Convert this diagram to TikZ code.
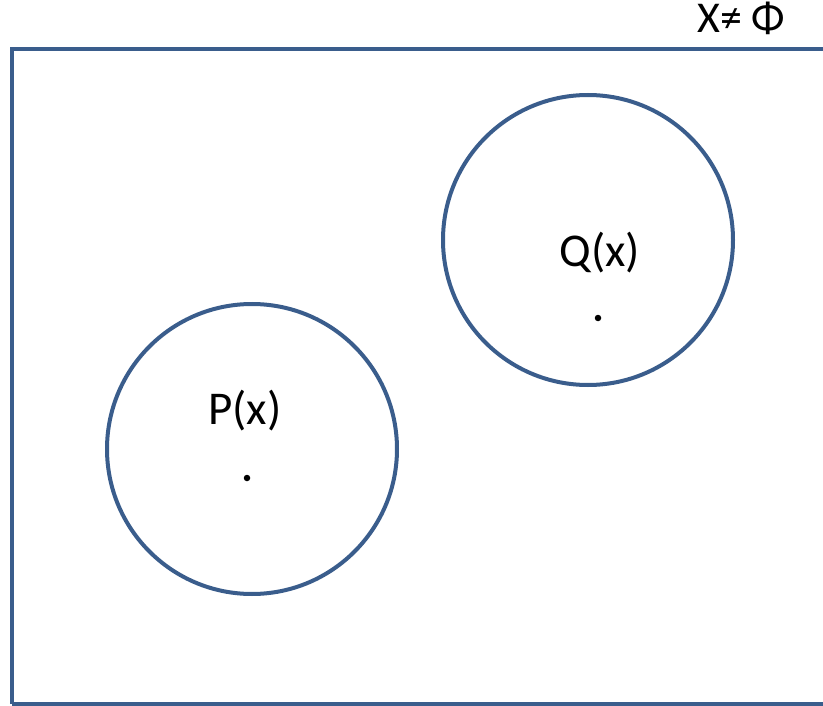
\documentclass[tikz,border=0pt]{standalone}
\usepackage{fontspec}
\setmainfont{Carlito}
\usetikzlibrary{positioning}
\definecolor{setblue}{RGB}{58,93,140}
\tikzstyle{universe} = [draw=setblue, line width=4pt]
\tikzstyle{setcircle} = [circle, draw=setblue, line width=4pt, minimum size=290pt, inner sep=0pt]
\tikzstyle{predicate} = [inner sep=0pt, anchor=base, font=\fontsize{47}{52}\selectfont]
\tikzstyle{elem} = [circle, fill=black, inner sep=0pt, minimum size=6.5pt]

\begin{document}
\begin{tikzpicture}[x=1pt, y=-1pt]
        \useasboundingbox (0,0) rectangle (823,706);
        \draw[universe] (12,704) -- (12,49) -- (835,49);
        \draw[universe] (12,704) -- (835,704);
        \node[inner sep=0pt, anchor=base west, font=\fontsize{44}{50}\selectfont] (univ) at (697,33) {X≠ Φ};
        \node[setcircle] (Q) at (588,240) {};
        \node[setcircle] (P) at (252,449) {};
        \node[predicate] (Qx) at (600,266) {Q(x)};
        \node[predicate] (Px) at (245,424) {P(x)};
        \node[elem] (q) at (598,318) {};
        \node[elem] (p) at (247,478) {};
    \end{tikzpicture}
\end{document}
